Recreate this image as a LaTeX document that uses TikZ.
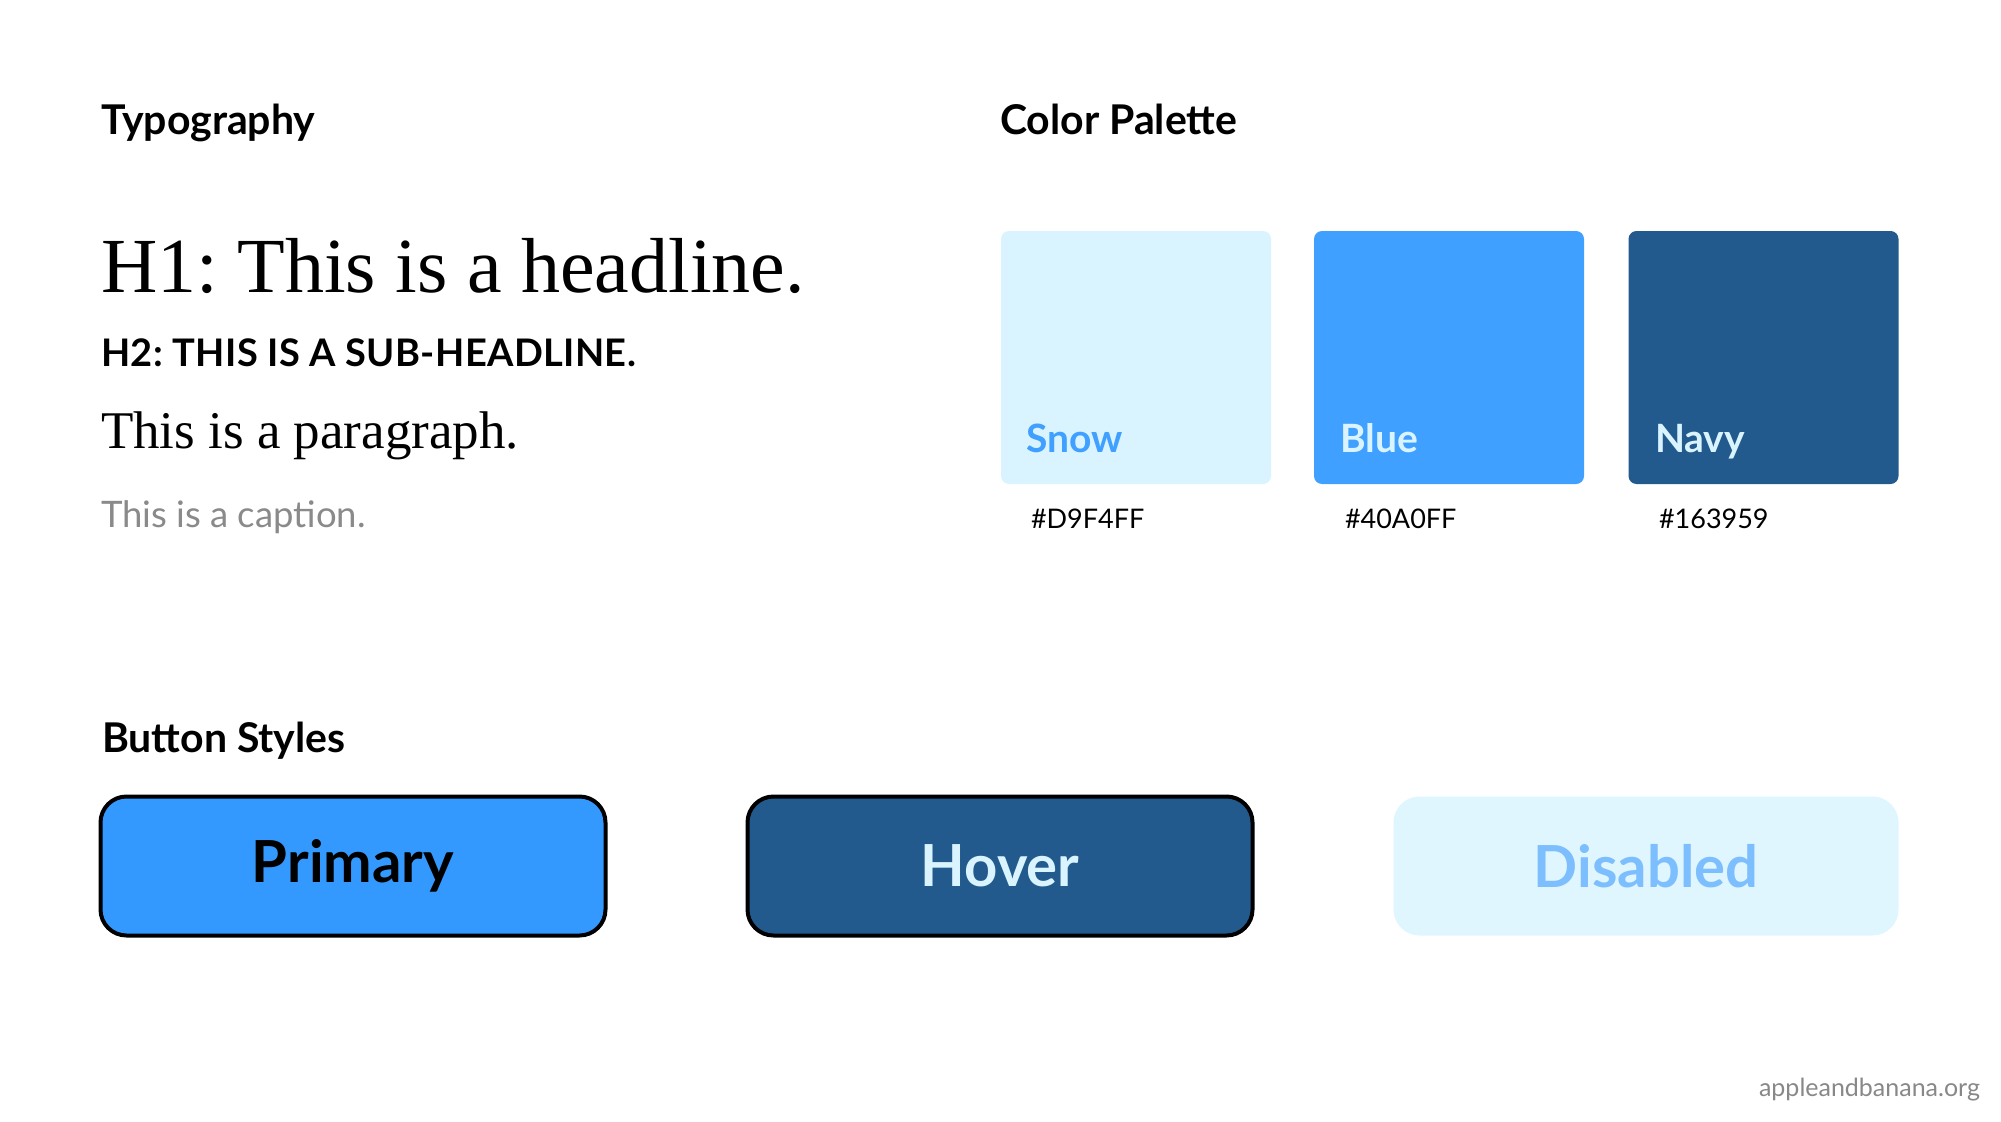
\documentclass[tikz,border=0pt]{standalone}
\usepackage{fontspec}
\setsansfont{Lato}
\setmainfont{Liberation Serif}
\definecolor{snow}{HTML}{D9F4FF}
\definecolor{bluec}{HTML}{40A0FF}
\definecolor{navy}{HTML}{225A8E}
\definecolor{primaryc}{HTML}{3399FF}
\definecolor{disfill}{HTML}{DFF6FF}
\definecolor{distext}{HTML}{7DBEFF}
\definecolor{captiongrey}{HTML}{8A8A8A}
\definecolor{markgrey}{HTML}{888888}
\frenchspacing
\begin{document}
\begin{tikzpicture}[x=1pt,y=-1pt,
  every node/.style={inner sep=0pt, outer sep=0pt},
  heading/.style={anchor=base west, font=\sffamily\bfseries\fontsize{41}{41}\selectfont, text=black},
  swatch/.style={rectangle, rounded corners=8pt, minimum width=270pt, minimum height=253pt},
  swlabel/.style={anchor=base west, font=\sffamily\bfseries\fontsize{39}{39}\selectfont},
  hexlabel/.style={anchor=base west, font=\sffamily\fontsize{27}{27}\selectfont, text=black},
  button/.style={rectangle, rounded corners=26pt, minimum width=505pt, minimum height=139pt, font=\sffamily\bfseries\fontsize{58}{58}\selectfont},
  bordered/.style={draw=black, line width=4pt}
]
\useasboundingbox[fill=white] (0,0) rectangle (2001,1121);

% headings
\node[heading] (typo) at (101,135) {Typography};
\node[heading] (palette) at (1000,135) {Color Palette};
\node[heading] (btnstyles) at (102,752) {Button Styles};

% typography samples
\node[anchor=base west, font=\rmfamily\fontsize{78}{78}\selectfont] (h1) at (101,292) {H1: This is a headline.};
\node[anchor=base west, font=\sffamily\bfseries\fontsize{38}{38}\selectfont] (h2) at (101,366) {\addfontfeatures{LetterSpace=1}H2: THIS IS A SUB-HEADLINE.};
\node[anchor=base west, font=\rmfamily\fontsize{53}{53}\selectfont] (para) at (101,448) {This is a paragraph.};
\node[anchor=base west, font=\sffamily\fontsize{36.5}{36.5}\selectfont, text=captiongrey] (caption) at (101,527) {This is a caption.};

% swatches
\node[swatch, fill=snow] (snowbox) at (1136,357.5) {};
\node[swatch, fill=bluec] (bluebox) at (1449,357.5) {};
\node[swatch, fill=navy] (navybox) at (1763.5,357.5) {};
\node[swlabel, text=bluec] (snowlbl) at (1026,452) {Snow};
\node[swlabel, text=snow] (bluelbl) at (1340,452) {Blue};
\node[swlabel, text=snow] (navylbl) at (1655,452) {Navy};
\node[hexlabel] (snowhex) at (1031,528) {\#D9F4FF};
\node[hexlabel] (bluehex) at (1345,528) {\#40A0FF};
\node[hexlabel] (navyhex) at (1659,528) {\#163959};

% buttons
\node[button, bordered, fill=primaryc, text=black] (primary) at (353,866) {Primary};
\node[button, bordered, fill=navy, text=snow] (hover) at (1000,866) {Hover};
\node[button, fill=disfill, text=distext] (disabled) at (1646,866) {Disabled};

% watermark
\node[anchor=base east, font=\sffamily\fontsize{25}{25}\selectfont, text=markgrey] (mark) at (1980,1096) {appleandbanana.org};
\end{tikzpicture}
\end{document}
